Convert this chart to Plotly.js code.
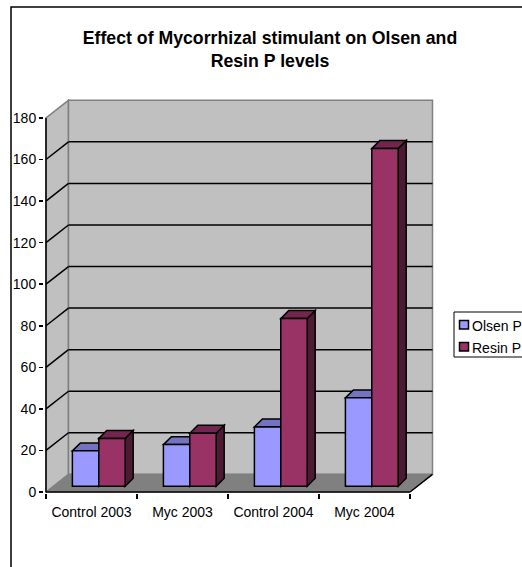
<!DOCTYPE html>
<html>
<head>
<meta charset="utf-8">
<script src="https://cdn.plot.ly/plotly-3.0.1.min.js"></script>
<style>html,body{margin:0;padding:0;background:#fff;overflow:hidden}</style>
</head>
<body>
<div id="chart" style="width:522px;height:567px"></div>
<script>
// Phosphorus levels per treatment
var categories = ['Control 2003', 'Myc 2003', 'Control 2004', 'Myc 2004'];
var olsenP = [17, 20, 28.5, 42.5];
var resinP = [23, 25.5, 80.7, 162.5];
var yTicks = [0, 20, 40, 60, 80, 100, 120, 140, 160, 180];

// Fake 3D projection, in axis units
var DEPTH_X = 0.247, DEPTH_Y = 8.5;
var BAR_W = 0.29, BAR_DX = 0.08, BAR_DY = 2.8;
var BAR_DEPTH_X = 0.088, BAR_DEPTH_Y = 3.8;
var X0 = -0.5, X1 = 3.5, Y_TOP = 180;

var WALL = '#C0C0C0', EDGE = '#808080', FLOOR = '#808080';
var OLSEN = {front: '#9999FF', top: '#7373C0', side: '#4D4D80'};
var RESIN = {front: '#993366', top: '#73264D', side: '#4D1A33'};

// Plot box in page pixels
var L = 44, R = 435, T = 99, B = 493;
var pxW = R - L, pxH = B - T;
function paperX(px) { return (px - L) / pxW; }
function paperY(py) { return (B - py) / pxH; }

function poly(pts, fill, lineColor, lineWidth, layer) {
  var d = pts.map(function (p, i) { return (i ? 'L' : 'M') + p[0] + ' ' + p[1]; }).join(' ') + ' Z';
  return {type: 'path', xref: 'x', yref: 'y', layer: layer || 'between', path: d,
          fillcolor: fill, line: {color: lineColor, width: lineWidth}};
}
function seg(x0, y0, x1, y1, color, width) {
  return {type: 'line', xref: 'x', yref: 'y', layer: 'between', x0: x0, y0: y0, x1: x1, y1: y1,
          line: {color: color, width: width}};
}
function paperRect(x0, y0, x1, y1, fill, color, width, layer) {
  return {type: 'rect', xref: 'paper', yref: 'paper', layer: layer,
          x0: paperX(x0), x1: paperX(x1), y0: paperY(y0), y1: paperY(y1),
          fillcolor: fill, line: {color: color, width: width}};
}

var shapes = [];

// Outer chart frame and legend box
shapes.push(paperRect(11, 7, 640, 640, 'rgba(0,0,0,0)', '#000', 1.5, 'below'));
shapes.push(paperRect(454, 312, 640, 357, '#fff', '#000', 1, 'below'));

// Side wall, back wall, floor
shapes.push(poly([[X0, 0], [X0 + DEPTH_X, DEPTH_Y], [X0 + DEPTH_X, Y_TOP + DEPTH_Y], [X0, Y_TOP]], WALL, EDGE, 1.5));
shapes.push(poly([[X0 + DEPTH_X, DEPTH_Y], [X1 + DEPTH_X, DEPTH_Y], [X1 + DEPTH_X, Y_TOP + DEPTH_Y], [X0 + DEPTH_X, Y_TOP + DEPTH_Y]], WALL, EDGE, 1.5));
shapes.push(poly([[X0, 0], [X1, 0], [X1 + DEPTH_X, DEPTH_Y], [X0 + DEPTH_X, DEPTH_Y]], FLOOR, EDGE, 1));

// Gridlines run along the side wall, then across the back wall
yTicks.forEach(function (v) {
  if (v === 0 || v === Y_TOP) return;
  shapes.push(seg(X0, v, X0 + DEPTH_X, v + DEPTH_Y, '#000', 1.5));
  shapes.push(seg(X0 + DEPTH_X, v + DEPTH_Y, X1 + DEPTH_X, v + DEPTH_Y, '#000', 1.5));
});

// Front edges of the box
shapes.push(seg(X0, 0, X0, Y_TOP, '#000', 1.5));
shapes.push(seg(X0, 0, X1, 0, '#000', 1.5));
shapes.push(seg(X1, 0, X1 + DEPTH_X, DEPTH_Y, '#000', 1.5));

// Top and side faces of each bar; the front faces are the bar traces
function addFaces(values, colors, leftOffset) {
  values.forEach(function (v, i) {
    var xl = i + leftOffset, xr = xl + BAR_W, top = v + BAR_DY, base = BAR_DY;
    shapes.push(poly([[xr, base], [xr + BAR_DEPTH_X, base + BAR_DEPTH_Y], [xr + BAR_DEPTH_X, top + BAR_DEPTH_Y], [xr, top]], colors.side, '#000', 1.5));
    shapes.push(poly([[xl, top], [xl + BAR_DEPTH_X, top + BAR_DEPTH_Y], [xr + BAR_DEPTH_X, top + BAR_DEPTH_Y], [xr, top]], colors.top, '#000', 1.5));
  });
}
addFaces(olsenP, OLSEN, BAR_DX - BAR_W);
addFaces(resinP, RESIN, BAR_DX);

function barTrace(name, values, colors, offset) {
  return {
    type: 'bar', name: name, x: categories, y: values,
    base: values.map(function () { return BAR_DY; }),
    width: BAR_W, offset: offset,
    marker: {color: colors.front, line: {color: '#000', width: 1.5}},
    hoverinfo: 'x+y+name'
  };
}
var traces = [
  barTrace('Olsen P', olsenP, OLSEN, BAR_DX - BAR_W),
  barTrace('Resin P', resinP, RESIN, BAR_DX)
];

// Key entries
var FONT = 'Liberation Sans, Arial, sans-serif';
var annotations = [];
[['Olsen P', OLSEN.front, 325], ['Resin P', RESIN.front, 347]].forEach(function (e) {
  shapes.push(paperRect(459.5, e[2] - 4.5, 468.5, e[2] + 4, e[1], '#000', 1.5, 'above'));
  annotations.push({xref: 'paper', yref: 'paper', x: paperX(471.5), y: paperY(e[2] + 1), xanchor: 'left', yanchor: 'middle',
    text: e[0], showarrow: false, align: 'left', borderpad: 0, borderwidth: 0, font: {family: FONT, size: 14, color: '#000'}});
});

var layout = {
  width: 522, height: 567, autosize: false,
  paper_bgcolor: '#fff', plot_bgcolor: 'rgba(0,0,0,0)',
  margin: {l: L, r: 522 - R, t: T, b: 567 - B, pad: 0, autoexpand: false},
  font: {family: FONT, size: 14, color: '#000'},
  title: {
    text: 'Effect of Mycorrhizal stimulant on Olsen and<br>Resin P levels',
    font: {family: FONT, size: 17.7, color: '#000', weight: 'bold'},
    x: 270 / 522, xanchor: 'center', y: 1 - 43.5 / 567, yanchor: 'top', xref: 'container', yref: 'container'
  },
  showlegend: false,
  barmode: 'overlay',
  xaxis: {
    type: 'category', categoryorder: 'array', categoryarray: categories,
    range: [X0 - 2 / 91, X1 + DEPTH_X + 2.5 / 91],
    tickson: 'boundaries', ticks: 'outside', ticklen: 5, tickwidth: 1.5, tickcolor: '#000',
    ticklabelstandoff: 9,
    showgrid: false, showline: false, zeroline: false, fixedrange: true,
    tickfont: {family: FONT, size: 14, color: '#000'}, automargin: false
  },
  yaxis: {
    range: [-1 / 2.078, (B - T - 1) / 2.078],
    tickmode: 'array', tickvals: yTicks, ticktext: yTicks.map(String),
    ticks: 'outside', ticklen: 4, tickwidth: 1.5, tickcolor: '#000',
    showgrid: false, showline: false, zeroline: false, fixedrange: true,
    tickfont: {family: FONT, size: 14, color: '#000'}, automargin: false
  },
  shapes: shapes,
  annotations: annotations
};

Plotly.newPlot('chart', traces, layout, {displayModeBar: false, staticPlot: true});
</script>
</body>
</html>
